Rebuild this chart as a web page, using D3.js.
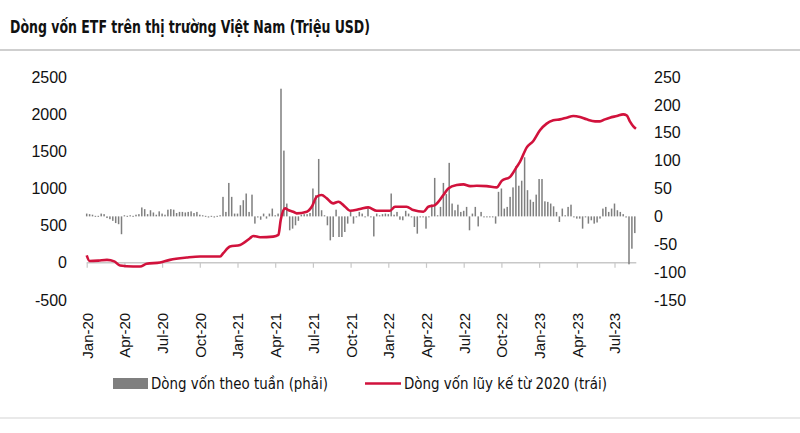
<!DOCTYPE html>
<html>
<head>
<meta charset="utf-8">
<script src="https://cdn.jsdelivr.net/npm/d3@7"></script>
<style>
    body { margin: 0; background: #fff; }
    svg { display: block; }
    .axis text { font-family: "Liberation Sans", Arial, sans-serif; font-size: 16px; fill: #111; }
    .narrow { font-family: "Liberation Sans Narrow", "DejaVu Sans Condensed", sans-serif; }
</style>
</head>
<body>
<div id="chart"></div>
<script>
// tick labels
const quarterLabels = ["Jan-20", "Apr-20", "Jul-20", "Oct-20", "Jan-21", "Apr-21", "Jul-21", "Oct-21",
    "Jan-22", "Apr-22", "Jul-22", "Oct-22", "Jan-23", "Apr-23", "Jul-23"]
const quarterWeeks = [0, 13, 26, 39, 52, 65, 78, 91, 104, 117, 130, 143, 156, 169, 182]
const leftTicks = [-500, 0, 500, 1000, 1500, 2000, 2500]
const rightTicks = [-150, -100, -50, 0, 50, 100, 150, 200, 250]

// weekly flows, million USD (right axis), week 0 = first week of Jan 2020
const weeklyFlows = [
    5, 4, 3, 1, 1, 5, 4, -3, -5, -8,
    -12, -14, -32, 2, 1, 2, 1, 3, 4, 16,
    13, 4, 11, 7, 3, 9, 5, 3, 12, 13,
    12, 6, 8, 8, 7, 8, 9, 6, 8, 3,
    2, 1, -2, 1, -2, 1, 2, 35, 8, 60,
    35, 5, 5, 20, 29, 41, 8, 39, -13, -2,
    -6, 5, -4, 5, 14, 2, 5, 229, 118, 23,
    -25, -22, -16, -8, 3, 4, 4, 6, 50, 38,
    103, 11, 2, -16, -43, -37, 12, -37, -37, -28,
    -13, 8, -13, -1, 8, 5, -1, 14, -1, -36,
    5, 2, 4, 5, 4, 41, 3, 8, -6, -7,
    10, 5, -1, -19, -31, -1, -1, -22, -1, 21,
    69, 2, 17, 60, 40, 96, 23, 11, 21, 8,
    10, 17, -25, 5, 17, -18, 8, -1, -1, -1,
    -1, -13, 44, 50, 14, 17, 35, 52, 90, 55,
    64, 106, 47, 30, 26, 39, 67, 67, 27, 26,
    23, 18, 8, -10, 14, 2, 17, 21, -1, -4,
    -4, -22, -1, -13, -7, -13, -11, -4, 14, 17,
    8, 14, 23, 11, 8, 4, -2, -86, -58, -30
]

// cumulative flow since 2020 (left axis), read at these weeks
const lineWeeks = [0, 1, 4, 7, 9.5, 11.5, 16, 18.4, 20.7, 25.3, 28.7, 34.5, 39.1, 46, 47.1, 49.4, 52.9,
    56.3, 57.4, 59.8, 64.3, 66.1, 66.9, 68.4, 69.5, 71.2, 72.4, 75.9, 77.6, 79.3, 81, 82.8, 85, 86.8,
    89.1, 90.8, 94.2, 97.1, 100, 104.6, 106.3, 110.3, 112.6, 116.1, 117.8, 120.1, 123, 124.7, 127.6,
    129.9, 132.2, 134.5, 137.9, 141.4, 143.1, 146, 148.3, 149.4, 151.7, 154, 156.3, 158.6, 160.9,
    163.2, 165.5, 167.8, 170.1, 172.4, 175.3, 177, 178.7, 180.4, 182.8, 185, 186.2, 187.3, 188.5, 189.4]
const lineValues = [100, 25, 30, 40, 20, -36, -49, -49, -13, 4, 40, 71, 85, 85, 130, 219, 241,
    331, 362, 344, 353, 375, 576, 733, 710, 688, 666, 688, 755, 889, 912, 867, 800, 822,
    755, 701, 724, 746, 701, 701, 755, 755, 710, 688, 755, 777, 912, 1001, 1046,
    1055, 1032, 1036, 1032, 1015, 1103, 1157, 1291, 1358, 1550, 1640, 1783, 1873, 1917,
    1930, 1953, 1975, 1961, 1930, 1903, 1903, 1930, 1953, 1975, 1997, 1984, 1903, 1836, 1805]

const titleText = "Dòng vốn ETF trên thị trường Việt Nam (Triệu USD)"
const barLegend = "Dòng vốn theo tuần (phải)"
const lineLegend = "Dòng vốn lũy kế từ 2020 (trái)"

const width = 800, height = 433
const barColor = "#7f7f7f", lineColor = "#d1123c", gridGrey = "#c8c8c8"

// plain integers, ascii minus like the source
const plainNumber = function (d) { return String(d) }

let svg = d3.select("#chart").append("svg")
    .attr("width", width)
    .attr("height", height)

// title + separators
svg.append("text")
    .attr("class", "narrow")
    .attr("x", 10).attr("y", 33)
    .attr("font-size", 18).attr("font-weight", "bold").attr("fill", "#111")
    .attr("textLength", 360).attr("lengthAdjust", "spacingAndGlyphs")
    .text(titleText)
svg.append("line").attr("x1", 0).attr("x2", width).attr("y1", 50).attr("y2", 50)
    .attr("stroke", "#cfcfcf").attr("stroke-width", 2)
svg.append("line").attr("x1", 0).attr("x2", width).attr("y1", 418).attr("y2", 418)
    .attr("stroke", "#e2e2e2").attr("stroke-width", 1.5)

// scales
let x = d3.scaleLinear().domain([0, 189]).range([86.7, 634.8])
let yL = d3.scaleLinear().domain([-500, 2500]).range([300, 77])
let yR = d3.scaleLinear().domain([-150, 250]).range([300, 77])

// left axis
let leftAxis = svg.append("g")
    .attr("class", "axis")
    .attr("transform", "translate(67,0)")
    .call(d3.axisLeft(yL).tickValues(leftTicks).tickFormat(plainNumber).tickSize(0).tickPadding(0))
leftAxis.select(".domain").remove()

// right axis
let rightAxis = svg.append("g")
    .attr("class", "axis")
    .attr("transform", "translate(654,0)")
    .call(d3.axisRight(yR).tickValues(rightTicks).tickFormat(plainNumber).tickSize(0).tickPadding(0))
rightAxis.select(".domain").remove()

// x axis on the left zero line, labels pushed down below the plot
let xAxis = svg.append("g")
    .attr("class", "axis")
    .attr("transform", "translate(0," + yL(0) + ")")
    .call(d3.axisBottom(x).tickValues(quarterWeeks).tickSize(5)
        .tickFormat(function (d, i) { return quarterLabels[i] }))
xAxis.select(".domain")
    .attr("d", "M" + x(0) + ",0H" + (x(189) + 1.5))
    .attr("stroke", gridGrey).attr("stroke-width", 1.5)
xAxis.selectAll(".tick line").attr("stroke", gridGrey).attr("stroke-width", 1.2)
xAxis.selectAll(".tick text")
    .attr("transform", "rotate(-90)")
    .attr("x", -50).attr("y", 0).attr("dy", "0.36em")
    .attr("text-anchor", "end")
    .style("font-size", "15px")

// weekly bars
svg.append("g")
    .selectAll("rect")
    .data(weeklyFlows)
    .enter()
    .append("rect")
    .attr("x", function (d, i) { return x(i) - 0.75 })
    .attr("width", 1.5)
    .attr("y", function (d) { return Math.min(yR(d), yR(0)) })
    .attr("height", function (d) { return Math.max(Math.abs(yR(d) - yR(0)), 1) })
    .attr("fill", barColor)

// cumulative line
let linePoints = lineWeeks.map(function (w, i) { return [w, lineValues[i]] })
svg.append("path")
    .datum(linePoints)
    .attr("fill", "none")
    .attr("stroke", lineColor)
    .attr("stroke-width", 2.6)
    .attr("stroke-linejoin", "round")
    .attr("d", d3.line()
        .curve(d3.curveMonotoneX)
        .x(function (d) { return x(d[0]) })
        .y(function (d) { return yL(d[1]) }))

// legend
let legend = svg.append("g").attr("class", "narrow")
legend.append("rect").attr("x", 113).attr("y", 378).attr("width", 35).attr("height", 11).attr("fill", barColor)
legend.append("text").attr("x", 151).attr("y", 389)
    .attr("font-size", 16).attr("fill", "#111")
    .attr("textLength", 177).attr("lengthAdjust", "spacingAndGlyphs")
    .text(barLegend)
legend.append("line").attr("x1", 365).attr("x2", 401).attr("y1", 383.5).attr("y2", 383.5)
    .attr("stroke", lineColor).attr("stroke-width", 2.6)
legend.append("text").attr("x", 404).attr("y", 389)
    .attr("font-size", 16).attr("fill", "#111")
    .attr("textLength", 203).attr("lengthAdjust", "spacingAndGlyphs")
    .text(lineLegend)
</script>
</body>
</html>
